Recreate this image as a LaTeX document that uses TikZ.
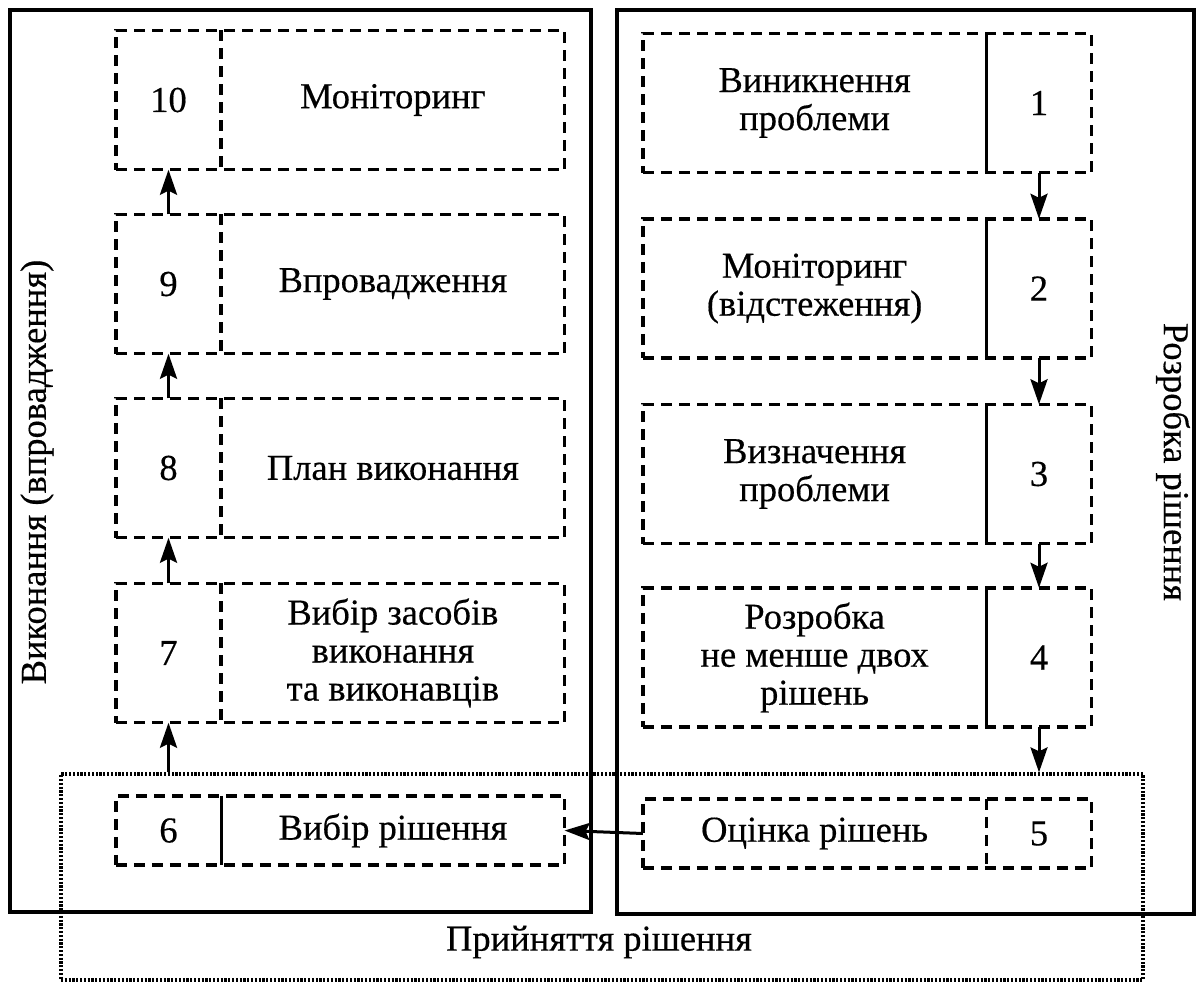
\documentclass[tikz,border=0pt]{standalone}
\usepackage{fontspec}
\setmainfont{Liberation Serif}[FakeBold=0.4]
\usetikzlibrary{arrows.meta,positioning,fit}

\begin{document}
\begin{tikzpicture}[x=1pt,y=-1pt,
  every node/.style={font=\fontsize{36.5}{38}\selectfont},
  phase/.style={draw=black, line width=4pt, inner sep=0pt},
  cellbox/.style={draw=black, line width=3.5pt, dash pattern=on 11pt off 7pt, inner sep=0pt},
  numcell/.style={minimum width=105pt, minimum height=#1, inner sep=0pt},
  numcell/.default=139pt,
  txtcell/.style={minimum width=343pt, minimum height=#1, inner sep=0pt, align=center},
  txtcell/.default=139pt,
  divdash/.style={line width=3.5pt, dash pattern=on 11pt off 7pt},
  divsolid/.style={line width=3pt},
  flow/.style={line width=3pt, -{Stealth[length=25pt,width=17pt,inset=4pt]}},
  zone/.style={draw=black, line width=3.3pt, dash pattern=on 2.2pt off 1.6pt, inner sep=0pt}
]
\useasboundingbox (0,0) rectangle (1196,985);

% two phase frames
\node[phase, minimum width=581pt, minimum height=902pt] (exec) at (300.5,461) {};
\node[phase, minimum width=577pt, minimum height=904pt] (dev) at (905.5,462) {};

% execution phase: steps 10 .. 6
\node[numcell] (n10) at (168.5,100) {10};
\node[txtcell, right=0pt of n10] (t10) {Моніторинг};
\node[numcell] (n9) at (168.5,284) {9};
\node[txtcell, right=0pt of n9] (t9) {Впровадження};
\node[numcell] (n8) at (168.5,468) {8};
\node[txtcell, right=0pt of n8] (t8) {План виконання};
\node[numcell] (n7) at (168.5,653) {7};
\node[txtcell, right=0pt of n7] (t7) {Вибір засобів\\виконання\\та виконавців};
\node[numcell=69pt] (n6) at (168.5,830.5) {6};
\node[txtcell=69pt, right=0pt of n6] (t6) {Вибір рішення};

% development phase: steps 1 .. 5
\node[numcell] (n1) at (1039,103) {1};
\node[txtcell, left=0pt of n1] (t1) {Виникнення\\проблеми};
\node[numcell] (n2) at (1039,288.5) {2};
\node[txtcell, left=0pt of n2] (t2) {Моніторинг\\(відстеження)};
\node[numcell] (n3) at (1039,474) {3};
\node[txtcell, left=0pt of n3] (t3) {Визначення\\проблеми};
\node[numcell] (n4) at (1039,657.5) {4};
\node[txtcell, left=0pt of n4] (t4) {Розробка\\не менше двох\\рішень};
\node[numcell=69pt] (n5) at (1039,833.5) {5};
\node[txtcell=69pt, left=0pt of n5] (t5) {Оцінка рішень};

% dashed outlines of the steps
\foreach \k in {1,...,10} {
  \node[cellbox, fit=(n\k)(t\k)] (b\k) {};
}

% dividers between number and caption
\foreach \k in {10,9,8,7} \draw[divdash] (n\k.north east) -- (n\k.south east);
\draw[divsolid] (n6.north east) -- (n6.south east);
\foreach \k in {1,2,3,4} \draw[divsolid] (n\k.north west) -- (n\k.south west);
\draw[divdash] (n5.north west) -- (n5.south west);

% decision-making zone
\node[zone, minimum width=1082pt, minimum height=206pt] (zone) at (602,877) {};
\node (zlabel) at (599,942) {Прийняття рішення};

% side captions
\node[rotate=90] (execlbl) at (37,472) {Виконання (впровадження)};
\node[rotate=-90] (devlbl) at (1173,462) {Розробка рішення};

% flow of the steps
\draw[flow] (n1.south) -- (n2.north);
\draw[flow] (n2.south) -- (n3.north);
\draw[flow] (n3.south) -- (n4.north);
\draw[flow] (n4.south) -- (n4.south |- zone.north);
\draw[flow] (t5.west) -- (t6.east);
\draw[flow] (n7.south |- zone.north) -- (n7.south);
\draw[flow] (n7.north) -- (n8.south);
\draw[flow] (n8.north) -- (n9.south);
\draw[flow] (n9.north) -- (n10.south);
\end{tikzpicture}
\end{document}
